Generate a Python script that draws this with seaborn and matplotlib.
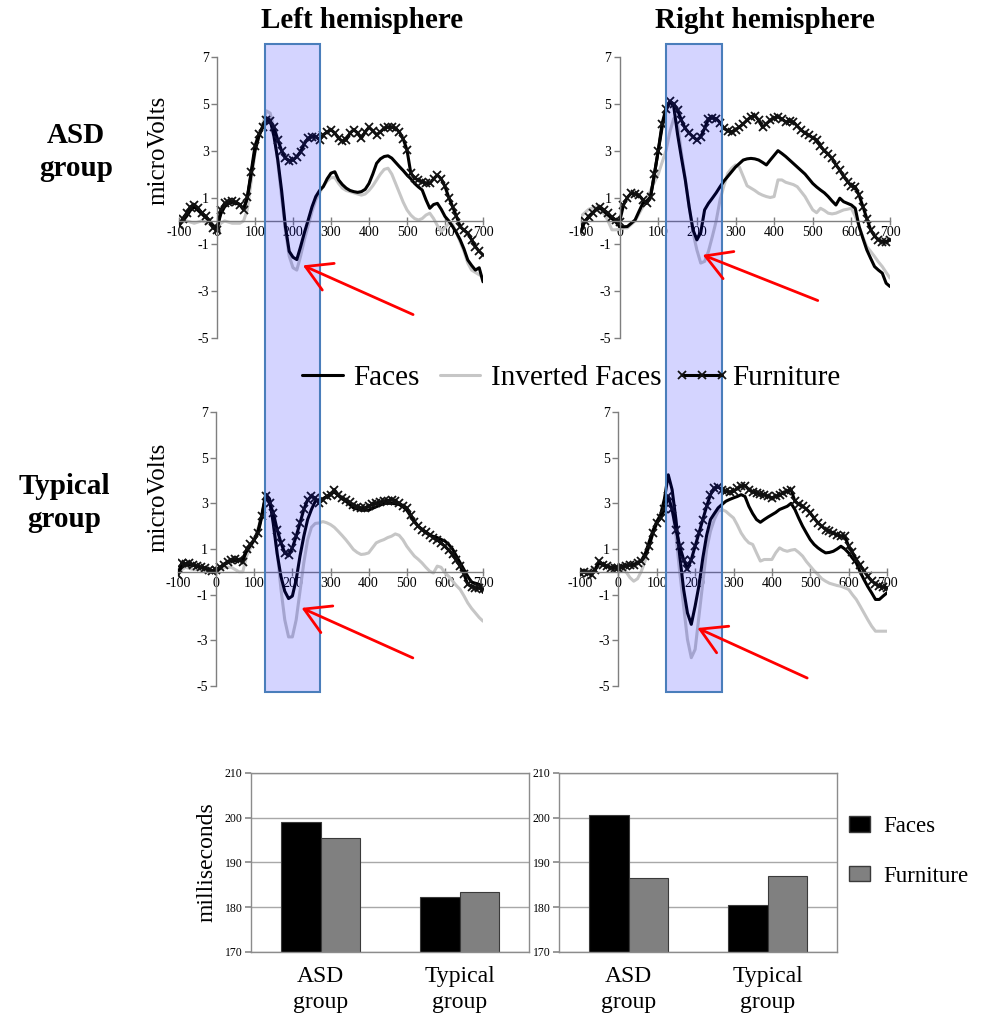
import matplotlib
matplotlib.use("Agg")
import matplotlib.pyplot as plt
import numpy as np
import pandas as pd
import seaborn as sns
from matplotlib.patches import Rectangle, FancyArrowPatch, Patch
from matplotlib.lines import Line2D
from matplotlib.transforms import blended_transform_factory

# ---------------- data ----------------
times = list(range(-100, 701, 10))

tl_furniture = [-0.17, 0.10, 0.33, 0.60, 0.70, 0.55, 0.33, 0.20, 0.00, -0.30,
                -0.40, 0.47, 0.75, 0.80, 0.83, 0.80, 0.70, 0.47, 1.04, 2.10,
                3.20, 3.70, 4.00, 4.30, 4.25, 4.00, 3.46, 3.00, 2.68, 2.58,
                2.60, 2.75, 2.96, 3.30, 3.53, 3.60, 3.60, 3.46, 3.68, 3.80,
                3.90, 3.75, 3.53, 3.40, 3.46, 3.75, 3.90, 3.75, 3.53, 3.80,
                4.00, 3.85, 3.68, 3.80, 3.96, 4.00, 4.00, 3.95, 3.80, 3.50,
                3.03, 2.04, 1.82, 1.75, 1.68, 1.60, 1.60, 1.80, 1.96, 1.80,
                1.47, 1.00, 0.61, 0.20, -0.24, -0.40, -0.53, -0.80, -1.10, -1.30,
                -1.45]
tl_faces = [-0.20, 0.00, 0.20, 0.45, 0.60, 0.45, 0.30, 0.15, 0.00, -0.20,
            -0.30, 0.30, 0.60, 0.75, 0.80, 0.75, 0.70, 0.50, 1.00, 2.00,
            3.00, 3.60, 4.00, 4.40, 4.30, 3.60, 2.60, 1.30, -0.24, -1.30,
            -1.55, -1.65, -1.10, -0.50, 0.04, 0.60, 1.04, 1.30, 1.47, 1.80,
            2.04, 2.10, 1.75, 1.55, 1.40, 1.30, 1.25, 1.22, 1.25, 1.35,
            1.60, 2.00, 2.46, 2.65, 2.75, 2.78, 2.68, 2.50, 2.32, 2.15,
            1.96, 1.80, 1.60, 1.45, 1.32, 0.90, 0.54, 0.70, 0.75, 0.50,
            0.19, 0.00, -0.24, -0.50, -0.81, -1.20, -1.67, -1.90, -2.10, -2.00,
            -2.60]
tl_inverted = [-0.10, -0.05, 0.00, -0.05, -0.10, -0.05, 0.00, -0.05, -0.10, -0.20,
               -0.30, -0.10, 0.00, -0.05, -0.10, -0.10, -0.10, 0.00, 0.50, 1.70,
               2.90, 3.60, 4.10, 4.70, 4.60, 3.90, 2.50, 1.00, -0.40, -1.50,
               -2.00, -2.10, -1.50, -0.80, -0.20, 0.40, 0.90, 1.20, 1.50, 1.70,
               1.85, 1.85, 1.60, 1.40, 1.30, 1.25, 1.20, 1.15, 1.10, 1.15,
               1.30, 1.50, 1.75, 2.00, 2.20, 2.25, 2.00, 1.60, 1.20, 0.80,
               0.47, 0.25, 0.10, 0.04, 0.10, 0.25, 0.33, 0.10, -0.20, -0.45,
               -0.30, -0.10, -0.15, -0.50, -0.90, -1.30, -1.80, -2.10, -2.20, -2.30,
               -2.40]

tr_furniture = [-0.45, 0.00, 0.15, 0.33, 0.50, 0.60, 0.45, 0.33, 0.15, 0.04,
                -0.03, 0.68, 1.00, 1.18, 1.15, 1.10, 0.90, 0.75, 1.04, 2.00,
                3.00, 4.16, 4.80, 5.10, 5.00, 4.73, 4.30, 3.95, 3.75, 3.60,
                3.45, 3.60, 3.95, 4.37, 4.40, 4.37, 4.20, 3.95, 3.85, 3.80,
                3.90, 4.00, 4.15, 4.30, 4.45, 4.50, 4.30, 4.00, 4.15, 4.30,
                4.40, 4.45, 4.35, 4.23, 4.25, 4.23, 4.05, 3.88, 3.75, 3.66,
                3.55, 3.45, 3.20, 3.00, 2.85, 2.67, 2.40, 2.17, 1.90, 1.68,
                1.50, 1.46, 1.10, 0.61, 0.10, -0.38, -0.65, -0.81, -0.88, -0.88,
                -0.81]
tr_faces = [-0.30, -0.05, 0.20, 0.35, 0.50, 0.55, 0.40, 0.25, 0.10, -0.05,
            -0.24, -0.25, -0.24, -0.10, 0.04, 0.40, 0.75, 0.85, 1.00, 2.00,
            3.00, 4.00, 4.70, 5.10, 4.90, 3.70, 2.70, 1.75, 0.60, -0.38,
            -0.81, -0.50, 0.47, 0.75, 0.97, 1.20, 1.46, 1.70, 1.90, 2.10,
            2.30, 2.45, 2.60, 2.65, 2.67, 2.65, 2.60, 2.50, 2.39, 2.60,
            2.80, 3.00, 2.88, 2.75, 2.60, 2.45, 2.30, 2.15, 2.00, 1.80,
            1.60, 1.45, 1.32, 1.20, 1.04, 0.85, 0.68, 0.97, 0.82, 0.75,
            0.68, 0.54, -0.24, -0.75, -1.24, -1.60, -1.95, -2.10, -2.23, -2.66,
            -2.80]
tr_inverted = [0.20, 0.35, 0.50, 0.55, 0.60, 0.45, 0.30, 0.00, -0.38, -0.38,
               -0.35, -0.30, -0.30, -0.15, 0.00, 0.30, 0.60, 0.95, 1.30, 1.65,
               2.00, 2.50, 3.00, 3.80, 4.37, 4.16, 2.90, 1.80, 0.60, -0.50,
               -1.24, -1.80, -1.73, -1.30, -0.67, 0.00, 0.90, 1.50, 2.03, 2.25,
               2.39, 2.30, 1.90, 1.50, 1.40, 1.30, 1.18, 1.10, 1.04, 1.00,
               1.04, 1.75, 1.75, 1.65, 1.60, 1.55, 1.46, 1.25, 1.04, 0.75,
               0.47, 0.35, 0.54, 0.45, 0.33, 0.30, 0.33, 0.40, 0.47, 0.50,
               0.54, 0.20, -0.24, -0.70, -1.10, -1.30, -1.52, -1.75, -1.95, -2.20,
               -2.44]

bl_furniture = [-0.12, 0.40, 0.35, 0.40, 0.30, 0.25, 0.20, 0.17, 0.10, 0.03,
                0.10, 0.20, 0.32, 0.45, 0.54, 0.55, 0.54, 0.45, 0.98, 1.20,
                1.41, 1.70, 2.43, 3.30, 3.00, 2.58, 1.85, 1.27, 0.83, 0.72,
                1.05, 1.56, 2.14, 2.73, 3.16, 3.30, 3.24, 3.00, 3.16, 3.30,
                3.38, 3.60, 3.38, 3.25, 3.16, 3.05, 2.94, 2.85, 2.80, 2.80,
                2.87, 2.95, 3.00, 3.05, 3.09, 3.12, 3.16, 3.10, 3.00, 2.90,
                2.80, 2.50, 2.20, 2.00, 1.85, 1.75, 1.63, 1.50, 1.41, 1.25,
                1.12, 0.95, 0.76, 0.50, 0.25, -0.10, -0.55, -0.65, -0.70, -0.72,
                -0.77]
bl_faces = [0.00, 0.20, 0.30, 0.30, 0.30, 0.25, 0.20, 0.15, 0.10, 0.05,
            0.00, 0.15, 0.30, 0.40, 0.50, 0.50, 0.50, 0.60, 0.90, 1.15,
            1.40, 1.80, 2.50, 3.40, 3.20, 2.10, 0.80, -0.20, -0.85, -1.17,
            -1.06, -0.34, 0.69, 1.56, 2.29, 2.73, 3.09, 3.16, 3.20, 3.30,
            3.40, 3.50, 3.35, 3.20, 3.10, 2.95, 2.80, 2.75, 2.70, 2.70,
            2.70, 2.78, 2.85, 2.92, 3.00, 3.00, 3.00, 2.98, 2.95, 2.85,
            2.70, 2.45, 2.20, 2.00, 1.85, 1.72, 1.60, 1.55, 1.50, 1.42,
            1.35, 1.20, 1.00, 0.70, 0.40, 0.10, -0.20, -0.45, -0.50, -0.55,
            -0.90]
bl_inverted = [0.00, 0.10, 0.20, 0.15, 0.10, 0.10, 0.10, 0.05, 0.00, 0.00,
               0.00, 0.10, 0.20, 0.20, 0.20, 0.10, 0.00, 0.00, 0.70, 1.05,
               1.40, 1.90, 2.50, 3.30, 3.20, 2.30, 0.90, -0.75, -2.10, -2.85,
               -2.85, -2.10, -0.85, 0.40, 1.40, 1.95, 2.12, 2.14, 2.20, 2.15,
               2.07, 1.95, 1.78, 1.60, 1.41, 1.20, 0.98, 0.85, 0.76, 0.78,
               0.83, 1.05, 1.27, 1.35, 1.41, 1.50, 1.56, 1.66, 1.60, 1.40,
               1.12, 0.90, 0.69, 0.55, 0.39, 0.20, 0.03, -0.05, 0.25, 0.20,
               -0.04, -0.20, -0.40, -0.60, -0.77, -1.05, -1.36, -1.60, -1.80, -2.00,
               -2.16]

br_furniture = [-0.04, 0.00, -0.04, -0.12, 0.10, 0.47, 0.32, 0.25, 0.17, 0.17,
                0.17, 0.20, 0.25, 0.30, 0.32, 0.40, 0.47, 0.69, 1.12, 1.70,
                2.14, 2.36, 2.73, 3.30, 2.73, 1.85, 1.12, 0.54, 0.12, 0.54,
                1.12, 1.70, 2.29, 2.87, 3.38, 3.67, 3.72, 3.60, 3.53, 3.50,
                3.53, 3.65, 3.75, 3.78, 3.60, 3.50, 3.45, 3.40, 3.38, 3.30,
                3.24, 3.30, 3.38, 3.45, 3.53, 3.60, 3.09, 2.95, 2.87, 2.75,
                2.58, 2.35, 2.14, 2.00, 1.85, 1.78, 1.70, 1.62, 1.56, 1.56,
                1.12, 0.85, 0.54, 0.30, 0.03, -0.20, -0.40, -0.52, -0.63, -0.67,
                -0.70]
br_faces = [0.00, 0.00, 0.00, -0.05, 0.10, 0.40, 0.30, 0.25, 0.20, 0.20,
            0.20, 0.25, 0.30, 0.30, 0.30, 0.40, 0.50, 0.80, 1.30, 1.80,
            2.20, 2.50, 3.20, 4.25, 3.60, 2.29, 0.69, -0.77, -1.80, -2.30,
            -1.50, -0.60, 0.60, 1.60, 2.29, 2.55, 2.80, 2.95, 3.09, 3.17,
            3.24, 3.30, 3.38, 3.30, 2.87, 2.55, 2.29, 2.17, 2.29, 2.40,
            2.50, 2.60, 2.73, 2.80, 2.87, 3.00, 2.73, 2.35, 2.00, 1.70,
            1.41, 1.20, 1.05, 0.93, 0.83, 0.85, 0.90, 1.00, 1.12, 1.00,
            0.83, 0.60, 0.39, 0.00, -0.34, -0.65, -0.92, -1.21, -1.21, -1.06,
            -0.92]
br_inverted = [0.00, 0.00, 0.00, 0.10, 0.20, 0.30, 0.30, 0.25, 0.20, 0.15,
               0.10, 0.05, 0.00, -0.25, -0.41, -0.30, 0.03, 0.50, 1.20, 1.70,
               2.10, 2.40, 2.80, 3.30, 2.80, 1.60, -0.04, -1.50, -2.96, -3.76,
               -3.40, -1.94, -0.48, 0.98, 1.78, 2.29, 2.65, 2.73, 2.65, 2.50,
               2.36, 2.05, 1.70, 1.45, 1.27, 1.20, 0.83, 0.47, 0.54, 0.54,
               0.54, 0.83, 1.05, 0.95, 0.90, 0.95, 0.98, 0.85, 0.69, 0.45,
               0.25, 0.05, -0.12, -0.30, -0.41, -0.50, -0.55, -0.60, -0.63, -0.70,
               -0.77, -1.00, -1.21, -1.50, -1.80, -2.10, -2.38, -2.60, -2.60, -2.60,
               -2.60]

erp_xticks = [-100, 0, 100, 200, 300, 400, 500, 600, 700]
erp_yticks = [7, 5, 3, 1, -1, -3, -5]
series_labels = ["Faces", "Inverted Faces", "Furniture"]

groups = ["ASD\ngroup", "Typical\ngroup"]
conditions = ["Faces", "Furniture"]
left_faces_ms = [199.0, 182.3]
left_furniture_ms = [195.5, 183.5]
right_faces_ms = [200.7, 180.6]
right_furniture_ms = [186.5, 186.9]
bar_yticks = [170, 180, 190, 200, 210]

# ---------------- style ----------------
sns.set_theme(style="white")
plt.rcParams["font.family"] = ["Liberation Serif", "DejaVu Serif"]
plt.rcParams["axes.unicode_minus"] = False
plt.rcParams["text.color"] = "black"
plt.rcParams["axes.labelcolor"] = "black"
plt.rcParams["xtick.color"] = "black"
plt.rcParams["ytick.color"] = "black"

W, H = 984, 1016
fig = plt.figure(figsize=(W / 100, H / 100), dpi=100)


def fx(px):
    return px / W


def fy(py):
    return 1 - py / H


def add_axes_px(x0, y0, x1, y1):
    return fig.add_axes([fx(x0), fy(y1), (x1 - x0) / W, (y1 - y0) / H])


FACE_C = "black"
INV_C = "#c6c6c6"
AX_C = "#7f7f7f"
FURN_KW = dict(color="black", lw=2.2, marker="x", markersize=6,
               markeredgewidth=1.3, markeredgecolor="#111111")


def draw_erp(ax, faces, inverted, furniture):
    df = pd.DataFrame({"t": times, "Faces": faces,
                       "Inverted Faces": inverted, "Furniture": furniture})
    sns.lineplot(data=df, x="t", y="Inverted Faces", ax=ax, color=INV_C, lw=2.2)
    sns.lineplot(data=df, x="t", y="Faces", ax=ax, color=FACE_C, lw=2.2)
    sns.lineplot(data=df, x="t", y="Furniture", ax=ax, **FURN_KW)
    ax.set_xlim(-100, 700)
    ax.set_ylim(-5, 7)
    ax.set_xticks(erp_xticks)
    ax.set_yticks(erp_yticks)
    ax.set_xlabel("")
    ax.set_ylabel("")
    ax.spines["left"].set_position(("data", 0))
    ax.spines["bottom"].set_position(("data", 0))
    for s in ["top", "right"]:
        ax.spines[s].set_visible(False)
    for s in ["left", "bottom"]:
        ax.spines[s].set_color(AX_C)
        ax.spines[s].set_linewidth(1.0)
    ax.tick_params(axis="y", left=True, direction="out", length=4, width=1,
                   color=AX_C, labelsize=10, pad=2, labelcolor="black")
    ax.tick_params(axis="x", bottom=True, direction="inout", length=6, width=1,
                   color=AX_C, labelsize=10, pad=1, labelcolor="black")
    ax.patch.set_alpha(0)


ax_tl = add_axes_px(179, 57, 483, 338)
ax_tr = add_axes_px(581, 57, 890, 338)
ax_bl = add_axes_px(178, 412, 483, 686)
ax_br = add_axes_px(580, 412, 887, 686)

draw_erp(ax_tl, tl_faces, tl_inverted, tl_furniture)
draw_erp(ax_tr, tr_faces, tr_inverted, tr_furniture)
draw_erp(ax_bl, bl_faces, bl_inverted, bl_furniture)
draw_erp(ax_br, br_faces, br_inverted, br_furniture)

# N170 analysis windows (span both rows)
for ax, (t0, t1) in [(ax_tl, (125, 270)), (ax_tr, (120, 265))]:
    tr = blended_transform_factory(ax.transData, fig.transFigure)
    rect = Rectangle((t0, fy(692)), t1 - t0, fy(44) - fy(692), transform=tr,
                     facecolor=(0.0, 0.0, 1.0, 0.17), edgecolor="#4a7ebb",
                     lw=1.5, zorder=2)
    fig.add_artist(rect)

# red arrows pointing at the N170 peaks
arrow_specs = [(ax_tl, (516, -4.0), (226, -1.9)),
               (ax_tr, (513, -3.4), (215, -1.45)),
               (ax_bl, (516, -3.77), (224, -1.58)),
               (ax_br, (492, -4.65), (206, -2.46))]
for ax, tail, tip in arrow_specs:
    arr = FancyArrowPatch(tail, tip, transform=ax.transData,
                          arrowstyle="->,head_length=0.6,head_width=0.35",
                          mutation_scale=30, lw=2.0, color="#ff0000",
                          shrinkA=0, shrinkB=0, zorder=3)
    fig.add_artist(arr)

# titles and row labels
fig.text(fx(362), fy(20), "Left hemisphere", ha="center", va="center",
         fontsize=21, fontweight="bold")
fig.text(fx(765), fy(20), "Right hemisphere", ha="center", va="center",
         fontsize=21, fontweight="bold")
fig.text(fx(76), fy(152), "ASD\ngroup", ha="center", va="center",
         fontsize=21, fontweight="bold", linespacing=1.3)
fig.text(fx(64), fy(503), "Typical\ngroup", ha="center", va="center",
         fontsize=21, fontweight="bold", linespacing=1.3)
fig.text(fx(158), fy(150), "microVolts", ha="center", va="center",
         rotation=90, fontsize=18)
fig.text(fx(158), fy(497), "microVolts", ha="center", va="center",
         rotation=90, fontsize=18)

# shared line legend
handles = [Line2D([], [], color=FACE_C, lw=2.2),
           Line2D([], [], color=INV_C, lw=2.2),
           Line2D([], [], **FURN_KW)]
fig.legend(handles, series_labels, loc="center",
           bbox_to_anchor=(fx(567), fy(378)), ncol=3, frameon=False,
           fontsize=21, handlelength=2.0, handletextpad=0.05,
           columnspacing=0.4, borderpad=0, numpoints=3)


# ---------------- latency bar charts ----------------
def draw_bars(ax, faces_ms, furniture_ms, ylabel):
    df = pd.DataFrame({"group": groups + groups,
                       "condition": [conditions[0]] * 2 + [conditions[1]] * 2,
                       "ms": faces_ms + furniture_ms})
    sns.barplot(data=df, x="group", y="ms", hue="condition",
                palette=["black", "#808080"], saturation=1, width=0.57,
                edgecolor="#3a3a3a", linewidth=0.8, ax=ax, legend=False)
    ax.set_ylim(170, 210)
    ax.set_xlim(-0.5, 1.5)
    ax.set_yticks(bar_yticks)
    ax.yaxis.grid(True, color="#a8a8a8", lw=1.0)
    ax.set_axisbelow(True)
    for s in ax.spines.values():
        s.set_visible(True)
        s.set_color("#8c8c8c")
        s.set_linewidth(1.0)
    ax.tick_params(axis="y", left=True, direction="out", length=4,
                   color="#8c8c8c", labelsize=8.5, pad=2)
    ax.tick_params(axis="x", bottom=False, labelsize=17, pad=4)
    for lbl in ax.get_xticklabels():
        lbl.set_linespacing(1.3)
    ax.set_xlabel("")
    if ylabel:
        ax.set_ylabel(ylabel, fontsize=17, labelpad=5)
    else:
        ax.set_ylabel("")


ax_bar_l = add_axes_px(251, 773, 529, 952)
ax_bar_r = add_axes_px(559, 773, 837, 952)
draw_bars(ax_bar_l, left_faces_ms, left_furniture_ms, "milliseconds")
draw_bars(ax_bar_r, right_faces_ms, right_furniture_ms, None)

bar_handles = [Patch(facecolor="black", edgecolor="#3a3a3a"),
               Patch(facecolor="#808080", edgecolor="#3a3a3a")]
fig.legend(bar_handles, conditions, loc="upper left",
           bbox_to_anchor=(fx(849), fy(816)), frameon=False, fontsize=16.5,
           handlelength=0.9, handleheight=0.65, handletextpad=0.6,
           labelspacing=1.25, borderpad=0, borderaxespad=0)

fig.savefig("out.png", dpi=100)
